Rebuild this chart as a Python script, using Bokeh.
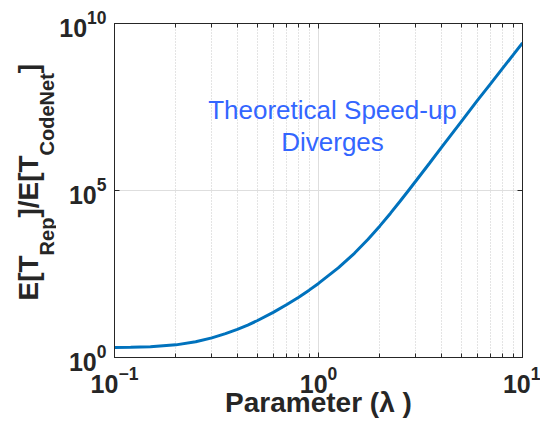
import math
from bokeh.plotting import figure
from bokeh.layouts import row
from bokeh.models import (LogAxis, FixedTicker, LogTickFormatter, Label,
                          CustomJSTickFormatter, Range1d)
from bokeh.embed import file_html
from bokeh.resources import INLINE

# ---- data ----
lam = [0.1, 0.12, 0.15, 0.2, 0.25, 0.3, 0.35, 0.4, 0.45, 0.5, 0.6, 0.7, 0.8, 0.9,
       1.0, 1.25, 1.5, 1.75, 2.0, 2.25, 2.5, 2.75, 3.0, 3.5, 4.0, 5.0, 6.0, 7.0,
       8.0, 9.0, 10.0]
speedup = [2.00, 2.03, 2.10, 2.39, 2.95, 3.88, 5.20, 6.98, 9.38, 12.6, 22.5, 38.6,
           64.1, 104, 165, 482, 1315, 3470, 8710, 2.06e4, 4.59e4, 9.66e4, 1.92e5,
           6.55e5, 1.91e6, 1.14e7, 4.89e7, 1.62e8, 4.59e8, 1.15e9, 2.62e9]

x_major = [0.1, 1, 10]
x_minor = [0.2, 0.3, 0.4, 0.5, 0.6, 0.7, 0.8, 0.9, 2, 3, 4, 5, 6, 7, 8, 9]
y_major = [1, 1e5, 1e10]

annotation_lines = ["Theoretical Speed-up", "Diverges"]
x_label = "Parameter (\u03bb )"
y_label_pieces = [("E[T", False), ("Rep", True), ("]/E[T", False), ("CodeNet", True), ("]", False)]

# ---- styling ----
INK = "#262626"
FONT = "Liberation Sans"
YW = 56                 # width of the strip that holds the y label
FL, FT = 114, 23        # frame left / top on the page
FW, FH = 408, 334       # frame size

p = figure(frame_width=FW, frame_height=FH, x_axis_type="log", y_axis_type="log",
           x_range=Range1d(0.1, 10), y_range=Range1d(1, 1e10),
           output_backend="svg", toolbar_location=None,
           min_border_left=FL - YW, min_border_right=18,
           min_border_top=FT, min_border_bottom=0)
p.background_fill_color = "white"
p.border_fill_color = "white"
p.outline_line_color = INK
p.outline_line_width = 1

xt = FixedTicker(ticks=x_major, minor_ticks=x_minor)
yt = FixedTicker(ticks=y_major, minor_ticks=[])

def style_axis(ax, ticker, labels=True):
    ax.ticker = ticker
    ax.axis_line_color = INK
    ax.major_tick_line_color = INK
    ax.minor_tick_line_color = INK
    ax.major_tick_in = 5
    ax.major_tick_out = 0
    ax.minor_tick_in = 4
    ax.minor_tick_out = 0
    ax.major_label_text_font = FONT
    ax.major_label_text_font_style = "bold"
    ax.major_label_text_font_size = "25px"
    ax.major_label_text_color = INK
    if labels:
        ax.formatter = LogTickFormatter()
    else:
        ax.formatter = CustomJSTickFormatter(code="return ''")
        ax.major_label_text_font_size = "0px"
        ax.major_label_standoff = 0

style_axis(p.xaxis[0], xt)
style_axis(p.yaxis[0], yt)
p.xaxis[0].major_label_standoff = 8
p.yaxis[0].major_label_standoff = 8
p.xaxis[0].axis_label = x_label
p.xaxis[0].axis_label_text_font = FONT
p.xaxis[0].axis_label_text_font_style = "bold"
p.xaxis[0].axis_label_text_font_size = "28px"
p.xaxis[0].axis_label_text_color = INK
p.xaxis[0].axis_label_standoff = -9

top = LogAxis()
style_axis(top, xt, labels=False)
p.add_layout(top, "above")
right = LogAxis()
style_axis(right, yt, labels=False)
p.add_layout(right, "right")

# grids
p.xgrid.grid_line_color = "#dedede"
p.xgrid.grid_line_width = 1
p.xgrid.minor_grid_line_color = "#c8c8c8"
p.xgrid.minor_grid_line_dash = "1 2"
p.xgrid.minor_grid_line_width = 1
p.ygrid.grid_line_color = "#dedede"
p.ygrid.grid_line_width = 1
p.ygrid.minor_grid_line_color = None

p.line(lam, speedup, line_color="#0072BD", line_width=3)

# annotation (frame-relative screen units, y up)
ann_y = [FH - 86, FH - 118]
for txt, yy in zip(annotation_lines, ann_y):
    p.add_layout(Label(x=218, y=yy, x_units="screen", y_units="screen", text=txt,
                       text_font=FONT, text_font_size="26px", text_color="#3366FF",
                       text_align="center", text_baseline="alphabetic"))

# ---- y label strip: same vertical frame as the plot ----
yfig = figure(frame_width=YW, frame_height=FH, x_range=Range1d(0, 1), y_range=p.y_range,
              y_axis_type="log", x_axis_location=None, y_axis_location=None,
              output_backend="svg", toolbar_location=None,
              min_border_left=0, min_border_right=0,
              min_border_top=FT, min_border_bottom=0)
yfig.outline_line_color = None
yfig.grid.visible = False
yfig.background_fill_color = "white"
yfig.border_fill_color = "white"

MAIN, SUB = 28, 20
CW = {"E": 0.667, "[": 0.333, "T": 0.611, "R": 0.722, "e": 0.556, "p": 0.611,
      "]": 0.333, "/": 0.278, "C": 0.722, "o": 0.611, "d": 0.611, "N": 0.722, "t": 0.333}
def width(s, size):
    return sum(CW[c] for c in s) * size
offset = 57             # pixels above the frame bottom where the label starts
main_x, sub_x = 28, 46
for s, sub in y_label_pieces:
    size = SUB if sub else MAIN
    yfig.add_layout(Label(x=sub_x if sub else main_x, y=y_major[0], x_units="screen", y_units="data",
                          y_offset=offset, text=s, angle=math.pi / 2, text_font=FONT,
                          text_font_style="bold", text_font_size=f"{size}px", text_color=INK,
                          text_align="left", text_baseline="alphabetic"))
    offset += width(s, size)

layout = row(yfig, p)
open("out.html", "w").write(file_html(layout, INLINE))
